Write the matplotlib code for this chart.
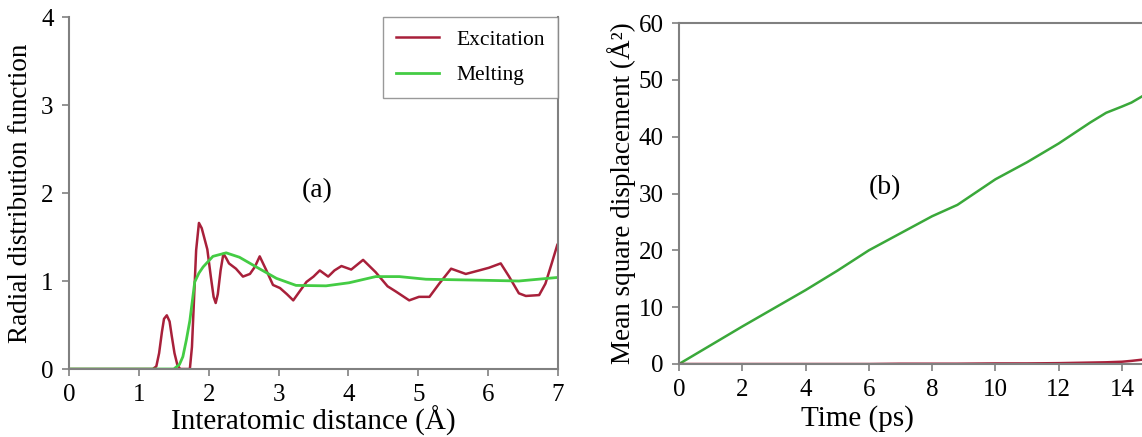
import numpy as np
import matplotlib.pyplot as plt

plt.rcParams['font.family'] = ['Liberation Serif', 'DejaVu Serif']

# (a) radial distribution function
r_exc = [0.0, 1.20, 1.25, 1.29, 1.33, 1.36, 1.40, 1.44, 1.47, 1.51, 1.55, 1.59, 1.73, 1.76,
         1.79, 1.82, 1.86, 1.90, 1.94, 1.98, 2.03, 2.07, 2.10, 2.13, 2.17, 2.21, 2.25, 2.29,
         2.39, 2.49, 2.59, 2.66, 2.73, 2.82, 2.92, 3.02, 3.12, 3.21, 3.30, 3.40, 3.50, 3.59,
         3.71, 3.80, 3.90, 4.04, 4.21, 4.39, 4.56, 4.68, 4.87, 5.01, 5.16, 5.30, 5.47, 5.68,
         5.87, 6.01, 6.18, 6.30, 6.44, 6.54, 6.73, 6.82, 6.91, 6.99]
g_exc = [0.0, 0.0, 0.03, 0.18, 0.42, 0.57, 0.61, 0.54, 0.38, 0.18, 0.05, 0.0, 0.0, 0.25,
         0.80, 1.35, 1.66, 1.60, 1.48, 1.36, 1.05, 0.82, 0.75, 0.85, 1.12, 1.31, 1.26, 1.20,
         1.14, 1.05, 1.08, 1.16, 1.28, 1.13, 0.955, 0.92, 0.85, 0.78, 0.88, 0.99, 1.05, 1.12,
         1.05, 1.12, 1.17, 1.13, 1.24, 1.10, 0.94, 0.88, 0.78, 0.82, 0.82, 0.97, 1.14, 1.08,
         1.12, 1.15, 1.20, 1.05, 0.86, 0.83, 0.84, 0.97, 1.20, 1.41]
r_melt = [0.0, 1.50, 1.58, 1.63, 1.68, 1.73, 1.80, 1.86, 1.92, 2.06, 2.25, 2.44, 2.68,
          2.97, 3.25, 3.68, 4.01, 4.39, 4.73, 5.11, 5.82, 6.44, 6.99]
g_melt = [0.0, 0.0, 0.05, 0.14, 0.33, 0.55, 0.99, 1.09, 1.16, 1.28, 1.32, 1.27, 1.16,
          1.03, 0.95, 0.945, 0.98, 1.05, 1.05, 1.02, 1.01, 1.00, 1.04]

# (b) mean square displacement
t_ps = [0, 1, 2, 3, 4, 5, 6, 7, 8, 8.8, 10, 11, 12, 13, 13.5, 14, 14.3, 14.7]
msd_melt = [0, 3.3, 6.6, 9.8, 13.0, 16.4, 20.0, 23.0, 26.0, 28.0, 32.5, 35.5, 38.8, 42.5,
            44.2, 45.3, 46.0, 47.3]
msd_exc = [0, 0, 0, 0, 0, 0, 0, 0.05, 0.05, 0.05, 0.1, 0.1, 0.15, 0.25, 0.3, 0.4, 0.55, 0.8]

red = '#a8203a'
green = '#44cc44'
spine_c = '#808080'

fig = plt.figure(figsize=(11.42, 4.37), dpi=100)
W, H = 1142, 437

ax1 = fig.add_axes([69 / W, 68 / H, 489 / W, 352 / H])
ax1.plot(r_exc, g_exc, color=red, lw=1.8, label='Excitation')
ax1.plot(r_melt, g_melt, color=green, lw=2.0, label='Melting')
ax1.set_xlim(0, 7)
ax1.set_ylim(0, 4)
ax1.set_xticks(range(8))
ax1.set_yticks(range(5))
ax1.set_xlabel('Interatomic distance (Å)', fontsize=21)
ax1.xaxis.set_label_coords(0.5, -0.103)
ax1.set_ylabel('Radial distribution function', fontsize=19.5, labelpad=6)
ax1.text(3.55, 2.03, '(a)', fontsize=20, ha='center', va='center')
ax1.spines['top'].set_visible(False)
leg = ax1.legend(loc='upper right', fontsize=15.5, frameon=True, fancybox=False,
                 borderaxespad=0, handlelength=2.0, borderpad=0.6, labelspacing=0.7,
                 edgecolor=spine_c)
leg.get_frame().set_linewidth(1.0)

ax2 = fig.add_axes([679 / W, 73 / H, 16 * 31.64 / W, 341 / H])
ax2.plot(t_ps, msd_melt, color='#3aa83a', lw=1.8)
ax2.plot(t_ps, msd_exc, color=red, lw=1.8)
ax2.set_xlim(0, 16)
ax2.set_ylim(0, 60)
ax2.set_xticks(range(0, 15, 2))
ax2.set_yticks(range(0, 61, 10))
ax2.set_xlabel('Time (ps)', fontsize=21)
ax2.xaxis.set_label_coords(0.352, -0.12)
ax2.set_ylabel('Mean square displacement (Å²)', fontsize=19.5, labelpad=2)
ax2.text(6.5, 31, '(b)', fontsize=20, ha='center', va='center')

for ax in (ax1, ax2):
    for s in ax.spines.values():
        s.set_color(spine_c)
        s.set_linewidth(1.5)
    ax.tick_params(direction='out', length=5, width=1.2, color=spine_c,
                   labelsize=18, pad=6)

fig.savefig('out.png', dpi=100)
